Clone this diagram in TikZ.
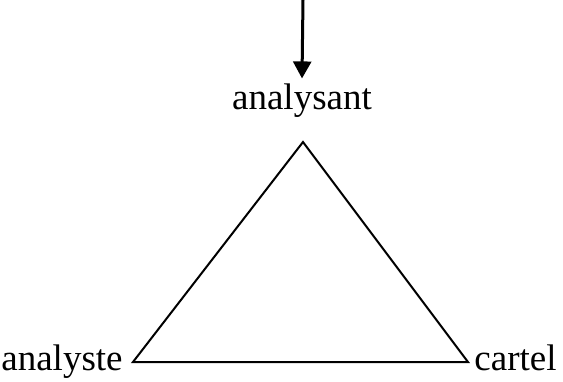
\documentclass[tikz,border=0pt]{standalone}
\usepackage{fontspec}
\setmainfont{Liberation Serif}
\usetikzlibrary{arrows.meta}

\begin{document}
\begin{tikzpicture}[x=0.5pt, y=-0.5pt, font=\fontsize{18.5}{22}\selectfont,
  side/.style={line width=1pt, line join=miter}]
  \useasboundingbox (0,0) rectangle (563,381);
  \coordinate (start) at (303,0);
  \coordinate (apex) at (303,142);
  \coordinate (baseL) at (133,362);
  \coordinate (baseR) at (468,362);
  \node[anchor=base, inner sep=2.25pt] (analysant) at (302,109) {analysant};
  \node[anchor=base east, inner sep=0pt] (analyste) at (123,370) {analyste};
  \node[anchor=base west, inner sep=0pt] (cartel) at (474,370) {cartel};
  \draw[side] (apex) -- (baseL) -- (baseR) -- cycle;
  \draw[-{Triangle[width=9pt,length=8.5pt]}, line width=1.5pt] (start) -- (analysant.north);
\end{tikzpicture}
\end{document}
